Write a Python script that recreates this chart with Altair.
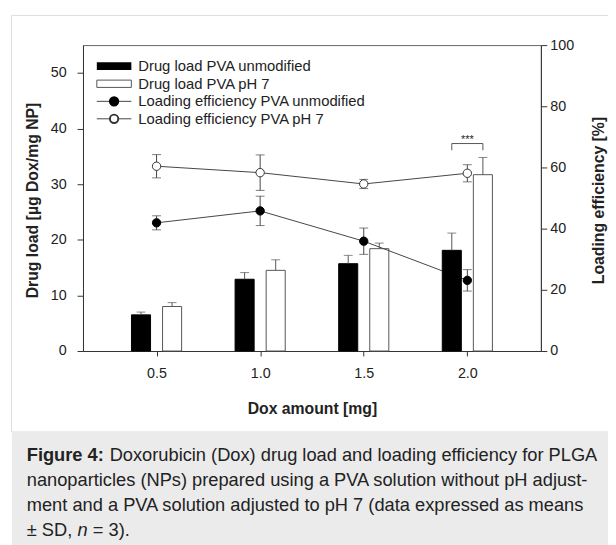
import altair as alt
import pandas as pd

# ---------------- data ----------------
doses = [0.5, 1.0, 1.5, 2.0]
load_unmod = [6.5, 12.9, 15.7, 18.1]
load_unmod_sd = [0.5, 1.2, 1.5, 3.1]
load_ph7 = [8.0, 14.5, 18.4, 31.7]
load_ph7_sd = [0.7, 1.9, 1.0, 3.1]
eff_unmod = [41.9, 45.8, 35.9, 23.1]
eff_unmod_sd = [2.3, 4.8, 4.3, 3.5]
eff_ph7 = [60.4, 58.3, 54.6, 58.1]
eff_ph7_sd = [3.8, 5.8, 1.5, 2.8]

x_ticks = [0.5, 1.0, 1.5, 2.0]
left_ticks = [0, 10, 20, 30, 40, 50]
right_ticks = [0, 20, 40, 60, 80, 100]

legend_labels = [
    "Drug load PVA unmodified",
    "Drug load PVA pH 7",
    "Loading efficiency PVA unmodified",
    "Loading efficiency PVA pH 7",
]
sig_dose = 2.0
sig_level = 37.3
sig_text = "***"

caption_bold = "Figure 4:"
caption_lines = [
    "Doxorubicin (Dox) drug load and loading efficiency for PLGA",
    "nanoparticles (NPs) prepared using a PVA solution without pH adjust-",
    "ment and a PVA solution adjusted to pH 7 (data expressed as means",
]
caption_last = ["\u00b1 SD,", "n", "= 3)."]

# ---------------- layout ----------------
W, H = 464, 310
FONT = "Liberation Sans"
TXT = "#222222"
BAR_OFF = 0.075
BAR_HALF = 0.046

xs = alt.Scale(domain=[0.145, 2.355], nice=False, zero=False)
yl = alt.Scale(domain=[0, 55], nice=False, zero=True)
yr = alt.Scale(domain=[0, 100], nice=False, zero=True)

bars = pd.DataFrame({
    "dose": doses * 2,
    "group": ["unmod"] * 4 + ["ph7"] * 4,
    "load": load_unmod + load_ph7,
    "sd": load_unmod_sd + load_ph7_sd,
    "off": [-BAR_OFF] * 4 + [BAR_OFF] * 4,
})
bars["xc"] = bars["dose"] + bars["off"]
bars["x0"] = bars["xc"] - BAR_HALF
bars["x1"] = bars["xc"] + BAR_HALF
bars["top"] = bars["load"] + bars["sd"]

eff = pd.DataFrame({
    "dose": doses * 2,
    "group": ["unmod"] * 4 + ["ph7"] * 4,
    "eff": eff_unmod + eff_ph7,
    "sd": eff_unmod_sd + eff_ph7_sd,
})
eff["lo"] = eff["eff"] - eff["sd"]
eff["hi"] = eff["eff"] + eff["sd"]

LAB_FS = 14.5
TIT_FS = 16
x_axis = alt.Axis(values=x_ticks, format=".1f", title="Dox amount [mg]", grid=False,
                  tickSize=5, labelPadding=11, labelFontSize=LAB_FS, labelColor=TXT,
                  titleFontSize=TIT_FS, titleFontWeight="bold", titleColor=TXT,
                  titleY=58, titleBaseline="middle", domainColor="#333", tickColor="#333")
left_axis = alt.Axis(orient="left", values=left_ticks, title="Drug load [\u00b5g Dox/mg NP]",
                     grid=False, tickSize=6, labelPadding=11, labelFontSize=LAB_FS, labelColor=TXT,
                     titleFontSize=TIT_FS, titleFontWeight="bold", titleColor=TXT,
                     titleAngle=-90, titleX=-51, titleY=H / 2 + 2, titleAlign="center",
                     titleBaseline="middle", domainColor="#333", tickColor="#333")
right_axis = alt.Axis(orient="right", values=right_ticks, title="Loading efficiency [%]",
                      grid=False, tickSize=6, labelPadding=3, labelFontSize=LAB_FS, labelColor=TXT,
                      titleFontSize=TIT_FS, titleFontWeight="bold", titleColor=TXT,
                      titleAngle=-90, titleX=58, titleY=H / 2 + 2, titleAlign="center",
                      titleBaseline="middle", domainColor="#333", tickColor="#333")

dummy = pd.DataFrame({"d": [0]})


def X(field):
    return alt.X(field, scale=xs, axis=x_axis)


def box(x, x2, y, y2, **kw):
    return alt.Chart(dummy).mark_rect(**kw).encode(
        x=alt.value(x), x2=alt.value(x2), y=alt.value(y), y2=alt.value(y2))


def label(text, x, y, **kw):
    return alt.Chart(dummy).mark_text(text=text, **kw).encode(x=alt.value(x), y=alt.value(y))


# decoration: figure panel and caption box
panel = box(-72.5, 540, -30, 392, fill="white", fillOpacity=0, stroke="#dddddd", strokeWidth=1)
cap_box = box(-72, 540, 392, 510, fill="#ebebeb")

# bars
white_bars = alt.Chart(bars[bars.group == "ph7"]).mark_rect(
    fill="white", stroke="#555555", strokeWidth=1).encode(
    x=X("x0:Q"), x2="x1:Q",
    y=alt.Y("load:Q", scale=yl, axis=left_axis), y2=alt.datum(0))
black_bars = alt.Chart(bars[bars.group == "unmod"]).mark_rect(
    fill="black", stroke="black", strokeWidth=1).encode(
    x=X("x0:Q"), x2="x1:Q",
    y=alt.Y("load:Q", scale=yl, axis=None), y2=alt.datum(0))
bar_err = alt.Chart(bars).mark_rule(color="#555555", strokeWidth=1).encode(
    x=X("xc:Q"),
    y=alt.Y("load:Q", scale=yl, axis=None), y2="top:Q")
bar_cap = alt.Chart(bars).mark_tick(orient="horizontal", size=9, thickness=1, color="#555555").encode(
    x=X("xc:Q"),
    y=alt.Y("top:Q", scale=yl, axis=None))

# loading efficiency lines
eff_lines = alt.Chart(eff).mark_line(color="#444444", strokeWidth=1).encode(
    x=X("dose:Q"),
    y=alt.Y("eff:Q", scale=yr, axis=right_axis),
    detail="group:N")
eff_err = alt.Chart(eff).mark_rule(color="#444444", strokeWidth=1).encode(
    x=X("dose:Q"),
    y=alt.Y("lo:Q", scale=yr, axis=None), y2="hi:Q")
eff_cap_lo = alt.Chart(eff).mark_tick(orient="horizontal", size=9, thickness=1, color="#444444").encode(
    x=X("dose:Q"),
    y=alt.Y("lo:Q", scale=yr, axis=None))
eff_cap_hi = alt.Chart(eff).mark_tick(orient="horizontal", size=9, thickness=1, color="#444444").encode(
    x=X("dose:Q"),
    y=alt.Y("hi:Q", scale=yr, axis=None))
pts_unmod = alt.Chart(eff[eff.group == "unmod"]).mark_point(
    shape="circle", filled=True, size=72, fill="black", stroke="black", strokeWidth=1, opacity=1).encode(
    x=X("dose:Q"),
    y=alt.Y("eff:Q", scale=yr, axis=None))
pts_ph7 = alt.Chart(eff[eff.group == "ph7"]).mark_point(
    shape="circle", filled=True, size=72, fill="white", stroke="#333333", strokeWidth=1, opacity=1).encode(
    x=X("dose:Q"),
    y=alt.Y("eff:Q", scale=yr, axis=None))

# significance bracket
sig = pd.DataFrame({"x0": [sig_dose - BAR_OFF], "x1": [sig_dose + BAR_OFF],
                    "xm": [sig_dose], "y": [sig_level], "yl": [sig_level - 1.2]})
br_top = alt.Chart(sig).mark_rule(color="#555555", strokeWidth=1).encode(
    x=X("x0:Q"), x2="x1:Q",
    y=alt.Y("y:Q", scale=yl, axis=None))
br_l = alt.Chart(sig).mark_rule(color="#555555", strokeWidth=1).encode(
    x=X("x0:Q"),
    y=alt.Y("yl:Q", scale=yl, axis=None), y2="y:Q")
br_r = alt.Chart(sig).mark_rule(color="#555555", strokeWidth=1).encode(
    x=X("x1:Q"),
    y=alt.Y("yl:Q", scale=yl, axis=None), y2="y:Q")
br_txt = alt.Chart(sig).mark_text(text=sig_text, fontSize=11, baseline="alphabetic",
                                  align="center", dy=-1, color=TXT).encode(
    x=X("xm:Q"),
    y=alt.Y("y:Q", scale=yl, axis=None))

# legend (drawn manually inside the plot)
lg_x0, lg_x1, lg_tx = 14, 49, 56
lg_rows = [21.3, 39.2, 57.0, 74.7]
lg = [
    box(lg_x0, lg_x1, lg_rows[0] - 4, lg_rows[0] + 4, fill="black"),
    box(lg_x0, lg_x1, lg_rows[1] - 3.7, lg_rows[1] + 3.7, fill="white", stroke="#555555", strokeWidth=1),
    alt.Chart(dummy).mark_rule(color="#444444", strokeWidth=1).encode(
        x=alt.value(lg_x0), x2=alt.value(lg_x1), y=alt.value(lg_rows[2])),
    alt.Chart(dummy).mark_rule(color="#444444", strokeWidth=1).encode(
        x=alt.value(lg_x0), x2=alt.value(lg_x1), y=alt.value(lg_rows[3])),
    alt.Chart(dummy).mark_point(shape="circle", filled=True, size=72, fill="black", stroke="black",
                                opacity=1).encode(x=alt.value((lg_x0 + lg_x1) / 2), y=alt.value(lg_rows[2])),
    alt.Chart(dummy).mark_point(shape="circle", filled=True, size=72, fill="white", stroke="#333333",
                                opacity=1).encode(x=alt.value((lg_x0 + lg_x1) / 2), y=alt.value(lg_rows[3])),
]
for i, t in enumerate(legend_labels):
    lg.append(label(t, lg_tx, lg_rows[i], fontSize=15, align="left", baseline="middle", color=TXT))

# caption
cap_x = -57
cap_base = [421, 446.5, 472, 497.5]
CAP_FS = 18.5
cap = [label(caption_bold, cap_x, cap_base[0], fontSize=CAP_FS, fontWeight="bold", align="left",
             baseline="alphabetic", color=TXT),
       label(caption_lines[0], cap_x + 84, cap_base[0], fontSize=CAP_FS, align="left",
             baseline="alphabetic", color=TXT),
       label(caption_lines[1], cap_x, cap_base[1], fontSize=CAP_FS, align="left",
             baseline="alphabetic", color=TXT),
       label(caption_lines[2], cap_x, cap_base[2], fontSize=CAP_FS, align="left",
             baseline="alphabetic", color=TXT),
       label(caption_last[0], cap_x, cap_base[3], fontSize=CAP_FS, align="left",
             baseline="alphabetic", color=TXT),
       label(caption_last[1], cap_x + 51.5, cap_base[3], fontSize=CAP_FS, fontStyle="italic",
             align="left", baseline="alphabetic", color=TXT),
       label(caption_last[2], cap_x + 67, cap_base[3], fontSize=CAP_FS, align="left",
             baseline="alphabetic", color=TXT)]

chart = alt.layer(
    panel, cap_box,
    white_bars, eff_lines, black_bars, bar_err, bar_cap,
    eff_err, eff_cap_lo, eff_cap_hi, pts_unmod, pts_ph7,
    br_top, br_l, br_r, br_txt,
    *lg, *cap,
).resolve_scale(y="independent").properties(
    width=W, height=H,
    padding={"left": 76, "top": 34, "right": 68, "bottom": 193},
    autosize=alt.AutoSizeParams(type="none"),
).configure(font=FONT, background="white").configure_view(stroke="#666666", strokeWidth=1)

chart.save("out.html", embed_options={"renderer": "svg", "actions": False})
